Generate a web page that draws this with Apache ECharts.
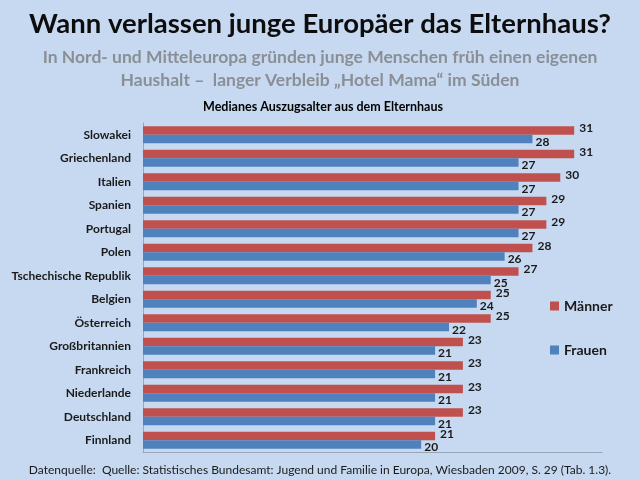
<!DOCTYPE html>
<html>
<head>
<meta charset="utf-8">
<script src="https://cdn.jsdelivr.net/npm/echarts@6/dist/echarts.min.js"></script>
<style>
html,body{margin:0;padding:0;background:#c6d9f1;}
#chart{width:640px;height:480px;}
</style>
</head>
<body>
<div id="chart"></div>
<script>
var laender = ['Slowakei','Griechenland','Italien','Spanien','Portugal','Polen','Tschechische Republik','Belgien','Österreich','Großbritannien','Frankreich','Niederlande','Deutschland','Finnland'];
var maenner = [31,31,30,29,29,28,27,25,25,23,23,23,23,21];
var frauen = [28,27,27,27,27,26,25,24,22,21,21,21,21,20];
var serienNamen = ['Männer','Frauen'];

var schrift = 'Lato';
var mychart = echarts.init(document.getElementById('chart'));
var option = {
    backgroundColor: '#c6d9f1',
    title: [
        {
            text: 'Wann verlassen junge Europäer das Elternhaus?',
            left: 'center', top: 5,
            textStyle: {fontFamily: schrift, fontSize: 27.5, fontWeight: 'bold', color: '#0d0d0d'}
        },
        {
            text: 'In Nord- und Mitteleuropa gründen junge Menschen früh einen eigenen\nHaushalt –  langer Verbleib „Hotel Mama“ im Süden',
            left: 'center', top: 41,
            textStyle: {fontFamily: schrift, fontSize: 17.5, fontWeight: 'bold', color: '#8a8f96', lineHeight: 23, align: 'center'}
        },
        {
            text: 'Medianes Auszugsalter aus dem Elternhaus',
            left: 318, top: 95, textAlign: 'center',
            textStyle: {fontFamily: schrift, fontSize: 12.5, fontWeight: 'bold', color: '#000'}
        },
        {
            text: 'Datenquelle:  Quelle: Statistisches Bundesamt: Jugend und Familie in Europa, Wiesbaden 2009, S. 29 (Tab. 1.3).',
            left: 'center', top: 459,
            textStyle: {fontFamily: schrift, fontSize: 12, fontWeight: 'normal', color: '#1a1a1a'}
        }
    ],
    legend: {
        orient: 'vertical',
        left: 545, top: 294,
        itemGap: 30,
        itemWidth: 9, itemHeight: 9,
        icon: 'rect',
        data: serienNamen,
        textStyle: {fontFamily: schrift, fontSize: 14, fontWeight: 'bold', color: '#1a1a1a'}
    },
    grid: {left: 143, top: 123, width: 459, height: 329, containLabel: false},
    xAxis: {
        type: 'value', min: 0, max: 33,
        axisLabel: {show: false},
        splitLine: {show: false},
        axisTick: {show: false},
        axisLine: {show: true, lineStyle: {color: '#9aa6b6', width: 1}}
    },
    yAxis: {
        type: 'category', inverse: true,
        data: laender,
        axisTick: {show: false},
        axisLine: {lineStyle: {color: '#9aa6b6', width: 1}},
        axisLabel: {fontFamily: schrift, fontSize: 12, fontWeight: 'bold', color: '#1a1a1a', margin: 12}
    },
    series: [
        {
            name: serienNamen[0], type: 'bar', data: maenner,
            barWidth: 8.5, barGap: '0%',
            itemStyle: {color: '#c0504d'},
            label: {show: true, position: 'right', distance: 5, offset: [0, -2],
                fontFamily: schrift, fontSize: 12, fontWeight: 'bold', color: '#1a1a1a'}
        },
        {
            name: serienNamen[1], type: 'bar', data: frauen,
            barWidth: 8.5,
            itemStyle: {color: '#4f81bd'},
            label: {show: true, position: 'right', distance: 3, offset: [0, 3],
                fontFamily: schrift, fontSize: 12, fontWeight: 'bold', color: '#1a1a1a'}
        }
    ]
};
mychart.setOption(option);
</script>
</body>
</html>
